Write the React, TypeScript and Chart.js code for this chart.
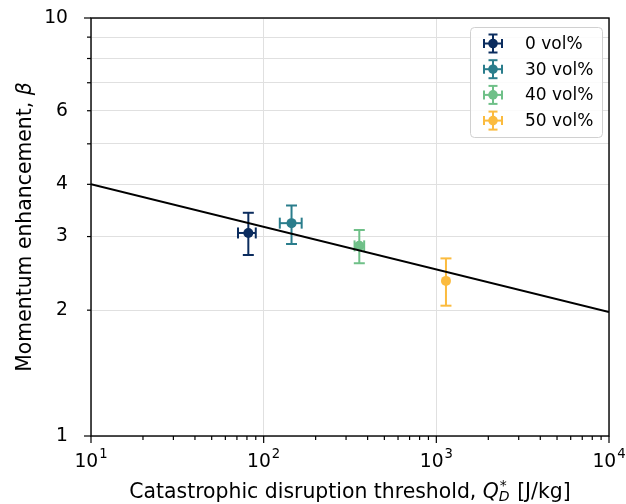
import React, { useEffect, useRef } from "react";
import { Chart, registerables } from "chart.js";

Chart.register(...registerables);

// ---- Data ----
const seriesLabels = ["0 vol%", "30 vol%", "40 vol%", "50 vol%"];
const seriesColors = ["#0b2c5e", "#2a7d8c", "#6fc088", "#fbbb3e"];
const qValues = [81.5, 145, 358, 1137];
const betaValues = [3.06, 3.23, 2.85, 2.35];
const qLow = [71, 124, 336, 1137];
const qHigh = [90, 166, 382, 1137];
const betaLow = [2.71, 2.88, 2.59, 2.05];
const betaHigh = [3.42, 3.56, 3.11, 2.66];
const fitQ = [10, 10000];
const fitBeta = [4.0, 1.98];
const xMajorTicks = [10, 100, 1000, 10000];
const xTickExponents = ["1", "2", "3", "4"];
const yLabeledTicks = [1, 2, 3, 4, 6, 10];

const FONT = "'DejaVu Sans', sans-serif";
const TICK_PX = 18.7;
const TITLE_PX = 20.4;
const LEGEND_PX = 17;

function minorTicks(lo: number, hi: number): number[] {
  const out: number[] = [];
  for (let p = lo; p < hi; p *= 10) {
    for (let m = 1; m < 10; m++) out.push(p * m);
  }
  out.push(hi);
  return out;
}
const isPow10 = (v: number) => Math.abs(Math.log10(v) - Math.round(Math.log10(v))) < 1e-9;

function line(ctx: CanvasRenderingContext2D, x1: number, y1: number, x2: number, y2: number) {
  ctx.beginPath();
  ctx.moveTo(x1, y1);
  ctx.lineTo(x2, y2);
  ctx.stroke();
}

const customPlugin = {
  id: "customDraw",
  beforeDatasetsDraw(chart: any) {
    const ctx: CanvasRenderingContext2D = chart.ctx;
    const xs = chart.scales.x;
    const ys = chart.scales.y;
    ctx.save();
    ctx.lineWidth = 2;
    const cap = 5.5;
    seriesLabels.forEach((_, i) => {
      ctx.strokeStyle = seriesColors[i];
      const px = xs.getPixelForValue(qValues[i]);
      const py = ys.getPixelForValue(betaValues[i]);
      const y1 = ys.getPixelForValue(betaLow[i]);
      const y2 = ys.getPixelForValue(betaHigh[i]);
      line(ctx, px, y1, px, y2);
      line(ctx, px - cap, y1, px + cap, y1);
      line(ctx, px - cap, y2, px + cap, y2);
      if (qLow[i] !== qHigh[i]) {
        const x1 = xs.getPixelForValue(qLow[i]);
        const x2 = xs.getPixelForValue(qHigh[i]);
        line(ctx, x1, py, x2, py);
        line(ctx, x1, py - cap, x1, py + cap);
        line(ctx, x2, py - cap, x2, py + cap);
      }
    });
    ctx.restore();
  },
  afterDraw(chart: any) {
    const ctx: CanvasRenderingContext2D = chart.ctx;
    const xs = chart.scales.x;
    const ys = chart.scales.y;
    const a = chart.chartArea;
    ctx.save();
    // frame
    ctx.strokeStyle = "#000";
    ctx.lineWidth = 1.4;
    ctx.strokeRect(a.left, a.top, a.right - a.left, a.bottom - a.top);
    // tick marks
    ctx.lineWidth = 1.2;
    minorTicks(10, 10000).forEach((v) => {
      const x = xs.getPixelForValue(v);
      const len = isPow10(v) ? 7 : 4;
      line(ctx, x, a.bottom, x, a.bottom + len);
    });
    minorTicks(1, 10).forEach((v) => {
      const y = ys.getPixelForValue(v);
      const len = isPow10(v) ? 7 : 4;
      line(ctx, a.left - len, y, a.left, y);
    });
    // x tick labels with superscripts
    ctx.fillStyle = "#000";
    ctx.textBaseline = "alphabetic";
    const SUP_PX = 13.2;
    xMajorTicks.forEach((v, i) => {
      const x = xs.getPixelForValue(v);
      ctx.font = `${TICK_PX}px ${FONT}`;
      const wBase = ctx.measureText("10").width;
      ctx.font = `${SUP_PX}px ${FONT}`;
      const wExp = ctx.measureText(xTickExponents[i]).width;
      const total = wBase + 1 + wExp;
      const sx = x - total / 2;
      ctx.textAlign = "left";
      ctx.font = `${TICK_PX}px ${FONT}`;
      ctx.fillText("10", sx, 467);
      ctx.font = `${SUP_PX}px ${FONT}`;
      ctx.fillText(xTickExponents[i], sx + wBase + 1, 458);
    });
    // x title
    {
      const baseY = 498;
      const partA = "Catastrophic disruption threshold, ";
      const partQ = "Q";
      const partEnd = " [J/kg]";
      const small = 14;
      ctx.font = `${TITLE_PX}px ${FONT}`;
      const wA = ctx.measureText(partA).width;
      const wEnd = ctx.measureText(partEnd).width;
      ctx.font = `italic ${TITLE_PX}px ${FONT}`;
      const wQ = ctx.measureText(partQ).width;
      ctx.font = `${small}px ${FONT}`;
      const wStar = ctx.measureText("*").width;
      ctx.font = `italic ${small}px ${FONT}`;
      const wD = ctx.measureText("D").width;
      const wSub = Math.max(wStar, wD) + 1;
      const total = wA + wQ + wSub + wEnd;
      let x = (a.left + a.right) / 2 - total / 2;
      ctx.textAlign = "left";
      ctx.font = `${TITLE_PX}px ${FONT}`;
      ctx.fillText(partA, x, baseY);
      x += wA;
      ctx.font = `italic ${TITLE_PX}px ${FONT}`;
      ctx.fillText(partQ, x, baseY);
      x += wQ;
      ctx.font = `${small}px ${FONT}`;
      ctx.fillText("*", x + 1, baseY - 8);
      ctx.font = `italic ${small}px ${FONT}`;
      ctx.fillText("D", x, baseY + 3);
      x += wSub;
      ctx.font = `${TITLE_PX}px ${FONT}`;
      ctx.fillText(partEnd, x, baseY);
    }
    // y title
    {
      ctx.save();
      ctx.translate(31, (a.top + a.bottom) / 2);
      ctx.rotate(-Math.PI / 2);
      const partA = "Momentum enhancement, ";
      ctx.font = `${TITLE_PX}px ${FONT}`;
      const wA = ctx.measureText(partA).width;
      ctx.font = `italic ${TITLE_PX}px ${FONT}`;
      const wB = ctx.measureText("β").width;
      const x = -(wA + wB) / 2;
      ctx.textAlign = "left";
      ctx.textBaseline = "alphabetic";
      ctx.font = `${TITLE_PX}px ${FONT}`;
      ctx.fillText(partA, x, 0);
      ctx.font = `italic ${TITLE_PX}px ${FONT}`;
      ctx.fillText("β", x + wA, 0);
      ctx.restore();
    }
    // legend
    {
      const bx = 470, by = 27, bw = 132, bh = 110;
      ctx.beginPath();
      (ctx as any).roundRect(bx + 0.5, by + 0.5, bw, bh, 4);
      ctx.fillStyle = "rgba(255,255,255,0.85)";
      ctx.fill();
      ctx.strokeStyle = "#d0d0d0";
      ctx.lineWidth = 1;
      ctx.stroke();
      const rows = [43.5, 69.2, 94.9, 120.6];
      seriesLabels.forEach((lab, i) => {
        const cx = 493, cy = rows[i];
        ctx.strokeStyle = seriesColors[i];
        ctx.fillStyle = seriesColors[i];
        ctx.lineWidth = 2;
        const h = 9, c = 4.5;
        line(ctx, cx - h, cy, cx + h, cy);
        line(ctx, cx, cy - h, cx, cy + h);
        line(ctx, cx - h, cy - c, cx - h, cy + c);
        line(ctx, cx + h, cy - c, cx + h, cy + c);
        line(ctx, cx - c, cy - h, cx + c, cy - h);
        line(ctx, cx - c, cy + h, cx + c, cy + h);
        ctx.beginPath();
        ctx.arc(cx, cy, 4.8, 0, Math.PI * 2);
        ctx.fill();
        ctx.fillStyle = "#000";
        ctx.font = `${LEGEND_PX}px ${FONT}`;
        ctx.textAlign = "left";
        ctx.textBaseline = "middle";
        ctx.fillText(lab, 525, cy + 1);
      });
    }
    ctx.restore();
  },
};

function zeroPadding(scale: any) {
  scale.paddingTop = 0;
  scale.paddingBottom = 0;
  scale.paddingLeft = 0;
  scale.paddingRight = 0;
}

export default function App() {
  const canvasRef = useRef<HTMLCanvasElement | null>(null);

  useEffect(() => {
    if (!canvasRef.current) return;
    const datasets: any[] = seriesLabels.map((lab, i) => ({
      type: "scatter",
      label: lab,
      data: [{ x: qValues[i], y: betaValues[i] }],
      backgroundColor: seriesColors[i],
      borderColor: seriesColors[i],
      pointRadius: 5,
      pointBorderWidth: 0,
      order: 1,
    }));
    datasets.push({
      type: "line",
      label: "fit",
      data: fitQ.map((q, i) => ({ x: q, y: fitBeta[i] })),
      borderColor: "#000",
      borderWidth: 2,
      pointRadius: 0,
      fill: false,
      order: 0,
    });

    const chart = new Chart(canvasRef.current, {
      type: "scatter",
      data: { datasets },
      options: {
        animation: false,
        responsive: false,
        devicePixelRatio: 1,
        layout: { padding: { top: 18, right: 17, left: 0, bottom: 0 } },
        plugins: {
          legend: { display: false },
          tooltip: { enabled: false },
        },
        scales: {
          x: {
            type: "logarithmic",
            min: 10,
            max: 10000,
            afterBuildTicks: (scale: any) => {
              scale.ticks = minorTicks(10, 10000).map((v) => ({ value: v }));
            },
            afterFit: (scale: any) => {
              scale.height = 68;
              zeroPadding(scale);
            },
            ticks: { display: false },
            grid: {
              drawTicks: false,
              color: (c: any) => (c.tick && isPow10(c.tick.value) ? "#e0e0e0" : "rgba(0,0,0,0)"),
              lineWidth: 1,
            },
            border: { display: false },
          },
          y: {
            type: "logarithmic",
            min: 1,
            max: 10,
            afterBuildTicks: (scale: any) => {
              scale.ticks = minorTicks(1, 10).map((v) => ({ value: v }));
            },
            afterFit: (scale: any) => {
              scale.width = 91;
              zeroPadding(scale);
            },
            ticks: {
              autoSkip: false,
              padding: 23,
              color: "#000",
              font: { family: "DejaVu Sans", size: TICK_PX },
              callback: (v: any) => {
                const n = Number(v);
                return yLabeledTicks.some((t) => Math.abs(t - n) < 1e-9) ? String(n) : "";
              },
            },
            grid: {
              drawTicks: false,
              color: "#e0e0e0",
              lineWidth: 1,
            },
            border: { display: false },
          },
        },
      },
      plugins: [customPlugin],
    } as any);

    return () => {
      chart.destroy();
    };
  }, []);

  return (
    <div style={{ position: "fixed", left: 0, top: 0, width: 626, height: 504, background: "#fff" }}>
      <canvas ref={canvasRef} width={626} height={504} style={{ display: "block" }} />
    </div>
  );
}
